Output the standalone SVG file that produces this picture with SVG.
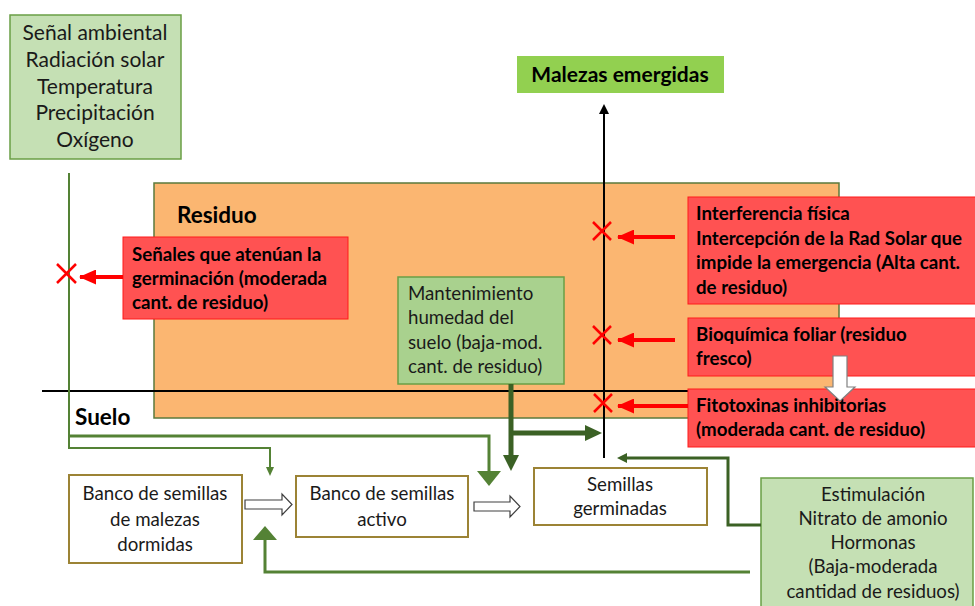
<svg xmlns="http://www.w3.org/2000/svg" width="975" height="606" viewBox="0 0 975 606">
<style>
text{font-family:Lato,"Liberation Sans",sans-serif;fill:#1a1a1a}
.reg{font-size:18.7px}
.big{font-size:21px}
.hd{font-size:22.5px}
.b{font-weight:bold;fill:#000}
.lg{fill:#c5e0b4;stroke:#6a9f45;stroke-width:1.5}
.mg{fill:#a9d18e;stroke:#6a9f45;stroke-width:1.5}
.red{fill:#ff5252;stroke:#ff1a1a;stroke-width:1}
.bank{fill:#fff;stroke:#9c8335;stroke-width:2}
.x{stroke:#ff0000;stroke-width:2.5;fill:none}
.ra{stroke:#ff0000;stroke-width:4;fill:none}
.mgl{stroke:#548235;stroke-width:3;fill:none}
.mgt{stroke:#548235;stroke-width:2;fill:none}
.dgl{stroke:#3b6125;stroke-width:5;fill:none}
.dgt{stroke:#3b6125;stroke-width:3;fill:none}
.hollow{fill:#fff;stroke:#404040;stroke-width:1.2}
</style>
<defs>
<marker id="redhead" markerUnits="userSpaceOnUse" markerWidth="17" markerHeight="15" refX="16" refY="7.5" orient="auto">
<path d="M0,0 L17,7.5 L0,15 z" fill="#ff0000"/>
</marker>
</defs>

<g id="residuo">
<rect x="154" y="183" width="685" height="235" fill="#fbb671" stroke="#5b7a3c" stroke-width="1.5"/>
<text x="177" y="223" class="hd b">Residuo</text>
</g>

<g id="suelo-line">
<line x1="42" y1="391" x2="840" y2="391" stroke="#000" stroke-width="2"/>
<text x="75" y="425" class="hd b">Suelo</text>
</g>

<g id="senal-ambiental">
<rect x="10" y="15" width="171" height="144" class="lg"/>
<text x="95" y="40" class="big" text-anchor="middle">Señal ambiental</text>
<text x="95" y="67" class="big" text-anchor="middle">Radiación solar</text>
<text x="95" y="94" class="big" text-anchor="middle">Temperatura</text>
<text x="95" y="120" class="big" text-anchor="middle">Precipitación</text>
<text x="95" y="147" class="big" text-anchor="middle">Oxígeno</text>
</g>

<g id="malezas-emergidas">
<rect x="517" y="56" width="207" height="37" fill="#92d050"/>
<text x="620" y="82" class="big b" text-anchor="middle">Malezas emergidas</text>
</g>

<g id="senales-atenuan">
<rect x="123" y="237" width="225" height="82" class="red"/>
<text x="132" y="261" class="reg b">Señales que atenúan la</text>
<text x="132" y="285" class="reg b">germinación (moderada</text>
<text x="132" y="309" class="reg b">cant. de residuo)</text>
</g>

<g id="mantenimiento">
<rect x="398" y="277" width="166" height="107" class="mg"/>
<text x="408" y="300" class="reg">Mantenimiento</text>
<text x="408" y="324" class="reg">humedad del</text>
<text x="408" y="349" class="reg">suelo (baja-mod.</text>
<text x="408" y="373" class="reg">cant. de residuo)</text>
</g>

<g id="interferencia">
<rect x="688" y="197" width="290" height="107" class="red"/>
<text x="696" y="220" class="reg b">Interferencia física</text>
<text x="696" y="245" class="reg b">Intercepción de la Rad Solar que</text>
<text x="696" y="269" class="reg b">impide la emergencia (Alta cant.</text>
<text x="696" y="294" class="reg b">de residuo)</text>
</g>

<g id="bioquimica">
<rect x="688" y="318" width="290" height="58" class="red"/>
<text x="696" y="341" class="reg b">Bioquímica foliar (residuo</text>
<text x="696" y="365" class="reg b">fresco)</text>
</g>

<g id="fitotoxinas">
<rect x="688" y="389" width="290" height="58" class="red"/>
<text x="696" y="412" class="reg b">Fitotoxinas inhibitorias</text>
<text x="696" y="436" class="reg b">(moderada cant. de residuo)</text>
</g>

<g id="banco-dormidas">
<rect x="69" y="475" width="173" height="88" class="bank"/>
<text x="155" y="500" class="reg" text-anchor="middle">Banco de semillas</text>
<text x="155" y="526" class="reg" text-anchor="middle">de malezas</text>
<text x="155" y="551" class="reg" text-anchor="middle">dormidas</text>
</g>

<g id="banco-activo">
<rect x="296" y="476" width="172" height="61" class="bank"/>
<text x="382" y="500" class="reg" text-anchor="middle">Banco de semillas</text>
<text x="382" y="526" class="reg" text-anchor="middle">activo</text>
</g>

<g id="semillas-germinadas">
<rect x="534" y="468" width="173" height="57" class="bank"/>
<text x="620" y="491" class="reg" text-anchor="middle">Semillas</text>
<text x="620" y="515" class="reg" text-anchor="middle">germinadas</text>
</g>

<g id="estimulacion">
<rect x="761" y="478" width="212" height="132" class="lg"/>
<text x="873" y="501" class="reg" text-anchor="middle">Estimulación</text>
<text x="873" y="525" class="reg" text-anchor="middle">Nitrato de amonio</text>
<text x="873" y="549" class="reg" text-anchor="middle">Hormonas</text>
<text x="873" y="573" class="reg" text-anchor="middle">(Baja-moderada</text>
<text x="873" y="598" class="reg" text-anchor="middle">cantidad de residuos)</text>
</g>

<g id="connectors">
<path d="M69,173 L69,448 L270,448 L270,468" class="mgt"/>
<polygon points="266,467 274,467 270,476" fill="#548235"/>
<path d="M69,436 L489,436 L489,472" class="mgl"/>
<polygon points="477,471 501,471 489,486" fill="#548235"/>
<path d="M123,277 L80,277" class="ra" marker-end="url(#redhead)"/>
<path d="M57,264 L76,283 M76,264 L57,283" class="x"/>
<line x1="604" y1="458" x2="604" y2="113" stroke="#000" stroke-width="2"/>
<polygon points="599,114 609,114 604,104" fill="#000"/>
<path d="M675,237 L618,237" class="ra" marker-end="url(#redhead)"/>
<path d="M593,222 L611,240 M611,222 L593,240" class="x"/>
<path d="M675,340 L618,340" class="ra" marker-end="url(#redhead)"/>
<path d="M593,326 L611,344 M611,326 L593,344" class="x"/>
<path d="M688,406 L618,406" class="ra" marker-end="url(#redhead)"/>
<path d="M594,394 L612,412 M612,394 L594,412" class="x"/>
<path d="M511,384 L511,456" class="dgl"/>
<polygon points="503,455 519,455 511,471" fill="#3b6125"/>
<path d="M511,433 L586,433" class="dgl"/>
<polygon points="585,425 585,441 602,433" fill="#3b6125"/>
<path d="M761,525 L728,525 L728,458 L626,458" class="dgt"/>
<polygon points="627,453 627,463 617,458" fill="#3b6125"/>
<path d="M750,572 L265,572 L265,539" class="mgl"/>
<polygon points="253,540 277,540 265,526" fill="#548235"/>
<polygon points="245,500 282,500 282,494 292,504.5 282,515 282,509 245,509" class="hollow"/>
<polygon points="474,502 510,502 510,496 520,506.5 510,517 510,511 474,511" class="hollow"/>
<polygon points="833,356 847,356 847,387 855,387 840,401 825,387 833,387" fill="#fff" stroke="#808080" stroke-width="1.2"/>
</g>
</svg>
